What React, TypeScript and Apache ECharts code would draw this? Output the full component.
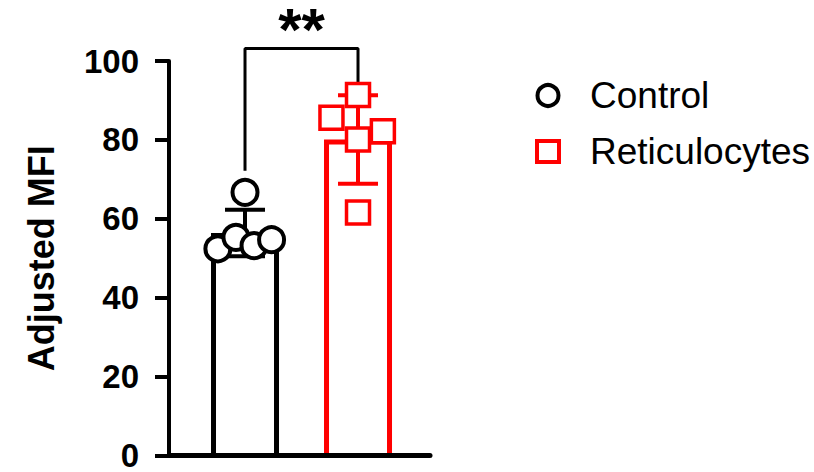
import React, { useEffect, useRef } from "react";
import * as echarts from "echarts";

const categories = ["Control", "Reticulocytes"];
const controlValues = [66.7, 52.4, 55.3, 53.2, 54.7];
const controlJitter = [0, -0.24, -0.08, 0.08, 0.235];
const reticValues = [91.4, 85.6, 82.2, 80.1, 61.6];
const reticJitter = [0, -0.235, 0.22, 0, 0];
const barMeans = [56.4, 80.1];
const barSD = [5.9, 11.2];
const yMin = 0;
const yMax = 100;
const yInterval = 20;
const bracket = [
  [0, 72.2],
  [0, 103.2],
  [1, 103.2],
  [1, 92.0],
];
const sigLabel = "**";
const sigPos = [0.5, 108];

const FONT = "'Liberation Sans', Arial, sans-serif";
const colors = ["#000000", "#ff0000"];

export default function App() {
  const ref = useRef<HTMLDivElement>(null);
  useEffect(() => {
    if (!ref.current) return;
    const chart = echarts.init(ref.current, null, { renderer: "svg" });
    const option: any = {
      animation: false,
      backgroundColor: "#ffffff",
      grid: { left: 169, right: 384, top: 61, bottom: 14, containLabel: false },
      xAxis: {
        type: "value",
        min: -0.6726,
        max: 1.637,
        z: 10,
        axisLine: { show: true, onZero: false, lineStyle: { color: "#000", width: 5 } },
        axisTick: { show: false },
        axisLabel: { show: false },
        splitLine: { show: false },
      },
      yAxis: {
        type: "value",
        min: yMin,
        max: yMax,
        interval: yInterval,
        z: 10,
        name: "Adjusted MFI",
        nameLocation: "middle",
        nameRotate: 90,
        nameGap: 110,
        nameTextStyle: { fontFamily: FONT, fontWeight: "bold", fontSize: 36, color: "#000" },
        axisLine: { show: true, onZero: false, lineStyle: { color: "#000", width: 4 } },
        axisTick: { show: true, length: 14, lineStyle: { color: "#000", width: 4 } },
        axisLabel: { margin: 30, fontFamily: FONT, fontWeight: "bold", fontSize: 33, lineHeight: 26, color: "#000" },
        splitLine: { show: false },
      },
      legend: {
        orient: "vertical",
        left: 530,
        top: 72,
        itemWidth: 22,
        itemHeight: 21,
        itemGap: 19,
        selectedMode: false,
        textStyle: { fontFamily: FONT, fontSize: 37, color: "#000", padding: [0, 0, 0, 26] },
        data: [
          { name: categories[0], icon: "circle", itemStyle: { color: "#fff", borderColor: colors[0], borderWidth: 4 } },
          { name: categories[1], icon: "rect", itemStyle: { color: "#fff", borderColor: colors[1], borderWidth: 4 } },
        ],
      },
      series: [
        {
          type: "custom",
          name: "bars",
          z: 2,
          clip: false,
          data: barMeans.map((m, i) => [i, m]),
          renderItem: (params: any, api: any) => {
            const i = params.dataIndex;
            const top = api.coord([api.value(0), api.value(1)]);
            const base = api.coord([api.value(0), 0]);
            const w = 68;
            const lw = 5;
            const l = top[0] - w / 2;
            const r = top[0] + w / 2;
            return {
              type: "group",
              children: [
                { type: "rect", shape: { x: l, y: top[1], width: w, height: base[1] - top[1] }, style: { fill: "#fff" } },
                {
                  type: "polyline",
                  shape: {
                    points: [
                      [l + lw / 2, base[1]],
                      [l + lw / 2, top[1] + lw / 2],
                      [r - lw / 2, top[1] + lw / 2],
                      [r - lw / 2, base[1]],
                    ],
                  },
                  style: { fill: "none", stroke: colors[i], lineWidth: lw, lineJoin: "miter" },
                },
              ],
            };
          },
        },
        {
          type: "custom",
          name: "errors",
          z: 3,
          clip: false,
          data: barMeans.map((m, i) => [i, m - barSD[i], m + barSD[i]]),
          renderItem: (params: any, api: any) => {
            const i = params.dataIndex;
            const lo = api.coord([api.value(0), api.value(1)]);
            const hi = api.coord([api.value(0), api.value(2)]);
            const cw = 20;
            const st = { stroke: colors[i], lineWidth: 4 };
            return {
              type: "group",
              children: [
                { type: "line", shape: { x1: lo[0], y1: lo[1], x2: hi[0], y2: hi[1] }, style: st },
                { type: "line", shape: { x1: hi[0] - cw, y1: hi[1], x2: hi[0] + cw, y2: hi[1] }, style: st },
                { type: "line", shape: { x1: lo[0] - cw, y1: lo[1], x2: lo[0] + cw, y2: lo[1] }, style: st },
              ],
            };
          },
        },
        {
          type: "scatter",
          name: categories[0],
          z: 4,
          clip: false,
          symbol: "circle",
          symbolSize: 25,
          itemStyle: { color: "#fff", borderColor: colors[0], borderWidth: 4, opacity: 1 },
          data: controlValues.map((v, i) => [0 + controlJitter[i], v]),
        },
        {
          type: "scatter",
          name: categories[1],
          z: 4,
          clip: false,
          symbol: "rect",
          symbolSize: 23,
          itemStyle: { color: "#fff", borderColor: colors[1], borderWidth: 3.5, opacity: 1 },
          data: reticValues.map((v, i) => [1 + reticJitter[i], v]),
        },
        {
          type: "line",
          name: "bracket",
          z: 3,
          clip: false,
          symbol: "none",
          lineStyle: { color: "#000", width: 3 },
          data: bracket,
        },
        {
          type: "scatter",
          name: "sig",
          z: 5,
          clip: false,
          symbolSize: 0,
          data: [sigPos],
          label: {
            show: true,
            position: "inside",
            formatter: () => sigLabel,
            fontFamily: FONT,
            fontWeight: "bold",
            fontSize: 60,
            lineHeight: 44,
            color: "#000",
            opacity: 1,
            textBorderWidth: 0,
          },
        },
      ],
    };
    chart.setOption(option);
    return () => chart.dispose();
  }, []);
  return <div ref={ref} style={{ position: "fixed", left: 0, top: 0, width: 814, height: 472 }} />;
}
